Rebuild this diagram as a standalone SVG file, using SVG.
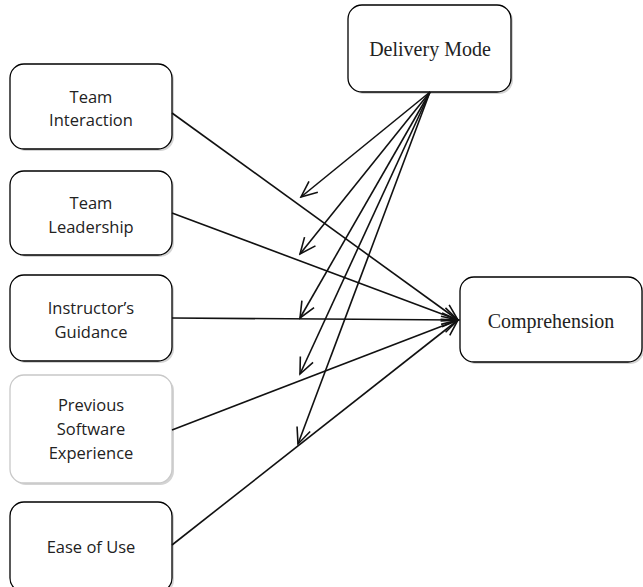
<svg xmlns="http://www.w3.org/2000/svg" width="643" height="587" viewBox="0 0 643 587">
  <style>
    .box { fill: #ffffff; stroke: #000000; stroke-width: 1.3; }
    .faint { stroke: #c8c8c8; }
    .shadow { fill: #d4d4d4; }
    .sans { font-family: "Open Sans", "Liberation Sans", sans-serif; font-size: 16.5px; fill: #222; text-anchor: middle; }
    .serif { font-family: "Liberation Serif", "DejaVu Serif", serif; font-size: 20px; fill: #222; text-anchor: middle; }
    .edge { stroke: #111; stroke-width: 1.6; fill: none; marker-end: url(#arrow); }
  </style>
  <defs>
    <marker id="arrow" viewBox="0 0 20 20" refX="18" refY="10" markerWidth="20" markerHeight="20" markerUnits="userSpaceOnUse" orient="auto">
      <path d="M2,3 L18,10 L2,17" fill="none" stroke="#111" stroke-width="1.6"/>
    </marker>
  </defs>

  <!-- source factors -->
  <g id="team-interaction">
    <rect class="shadow" x="12" y="66" width="162" height="85" rx="14"/>
    <rect class="box" x="10" y="64" width="162" height="85" rx="14"/>
    <text class="sans" x="91" y="103">Team</text>
    <text class="sans" x="91" y="126">Interaction</text>
  </g>
  <g id="team-leadership">
    <rect class="shadow" x="12" y="173" width="162" height="84" rx="14"/>
    <rect class="box" x="10" y="171" width="162" height="84" rx="14"/>
    <text class="sans" x="91" y="209">Team</text>
    <text class="sans" x="91" y="233">Leadership</text>
  </g>
  <g id="instructors-guidance">
    <rect class="shadow" x="12" y="277" width="162" height="86" rx="14"/>
    <rect class="box" x="10" y="275" width="162" height="86" rx="14"/>
    <text class="sans" x="91" y="314">Instructor’s</text>
    <text class="sans" x="91" y="338">Guidance</text>
  </g>
  <g id="previous-software-experience">
    <rect class="shadow" x="12" y="377" width="162" height="108" rx="14"/>
    <rect class="box faint" x="10" y="375" width="162" height="108" rx="14"/>
    <text class="sans" x="91" y="411">Previous</text>
    <text class="sans" x="91" y="435">Software</text>
    <text class="sans" x="91" y="459">Experience</text>
  </g>
  <g id="ease-of-use">
    <rect class="shadow" x="12" y="504" width="162" height="90" rx="14"/>
    <rect class="box" x="10" y="502" width="162" height="90" rx="14"/>
    <text class="sans" x="91" y="553">Ease of Use</text>
  </g>

  <!-- moderator -->
  <g id="delivery-mode">
    <rect class="shadow" x="350" y="7" width="163" height="87" rx="14"/>
    <rect class="box" x="348" y="5" width="163" height="87" rx="14"/>
    <text class="serif" x="430" y="56">Delivery Mode</text>
  </g>

  <!-- outcome -->
  <g id="comprehension">
    <rect class="shadow" x="462" y="279" width="182" height="85" rx="14"/>
    <rect class="box" x="460" y="277" width="182" height="85" rx="14"/>
    <text class="serif" x="551" y="328">Comprehension</text>
  </g>

  <g id="connectors">
    <line class="edge" x1="172" y1="113" x2="458" y2="320"/>
    <line class="edge" x1="172" y1="213" x2="458" y2="320"/>
    <line class="edge" x1="172" y1="318" x2="458" y2="320"/>
    <line class="edge" x1="172" y1="430" x2="458" y2="320"/>
    <line class="edge" x1="172" y1="545" x2="458" y2="320"/>
    <line class="edge" x1="430" y1="92" x2="301" y2="197"/>
    <line class="edge" x1="430" y1="92" x2="300" y2="254"/>
    <line class="edge" x1="430" y1="92" x2="300" y2="318"/>
    <line class="edge" x1="430" y1="92" x2="300" y2="374"/>
    <line class="edge" x1="430" y1="92" x2="298" y2="444"/>
  </g>
</svg>
